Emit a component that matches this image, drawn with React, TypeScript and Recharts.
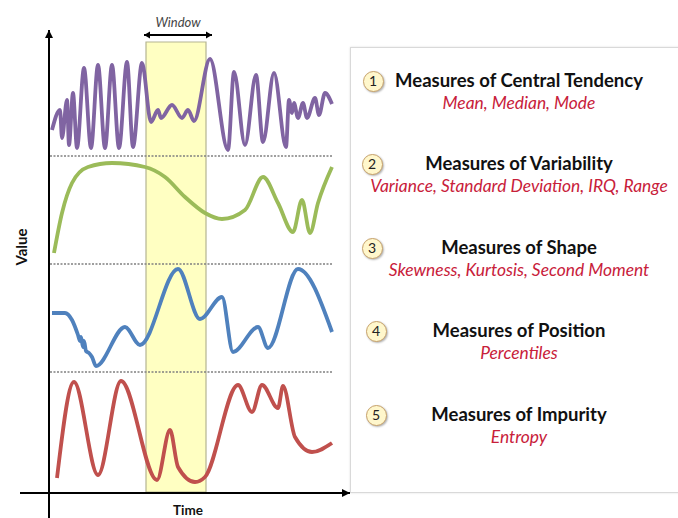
import React from 'react';
import { LineChart, Line, XAxis, YAxis, ReferenceLine, ReferenceArea } from 'recharts';

// time (x) and value (y) readings for each signal
const purpleTime = [4, 12, 14, 19, 21, 25, 29, 36, 43, 50, 57, 64, 71, 79, 85, 94, 103, 110, 113, 124, 134, 140, 146, 162, 180, 186, 197, 208, 215, 226, 238, 241, 244, 246, 250, 255, 259, 267, 271, 277, 284];
const purpleValue = [363, 383, 355, 393, 348, 400, 345, 425, 345, 428, 345, 428, 345, 431, 346, 430, 371, 383, 375, 388, 375, 383, 372, 434, 343, 421, 348, 418, 351, 420, 346, 393, 380, 390, 375, 390, 375, 395, 378, 400, 389];

const greenTime = [6, 14, 24, 40, 64, 97, 117, 137, 157, 174, 197, 215, 230, 245, 254, 262, 270, 284];
const greenValue = [240, 280, 310, 326, 330, 326, 316, 296, 280, 274, 283, 316, 290, 261, 293, 260, 290, 326];

const blueTime = [4, 17, 24, 30, 32, 33, 35, 36, 38, 41, 44, 48, 77, 92, 130, 152, 174, 185, 210, 220, 250, 284];
const blueValue = [180, 180, 173, 158, 152, 156, 146, 152, 142, 140, 136, 127, 166, 148, 224, 174, 196, 141, 166, 145, 224, 161];

const redTime = [9, 26, 50, 73, 109, 122, 130, 147, 157, 190, 204, 214, 230, 235, 247, 264, 284];
const redValue = [15, 111, 18, 112, 13, 63, 26, 11, 16, 108, 81, 108, 85, 107, 56, 41, 50];

const windowRange = [98, 158];
const separatorLevels = [337, 229, 121];

const measureTitles = [
  'Measures of Central Tendency',
  'Measures of Variability',
  'Measures of Shape',
  'Measures of Position',
  'Measures of Impurity',
];
const measureExamples = [
  'Mean, Median, Mode',
  'Variance, Standard Deviation, IRQ, Range',
  'Skewness, Kurtosis, Second Moment',
  'Percentiles',
  'Entropy',
];

const toPoints = (ts: number[], vs: number[]) => ts.map((t, i) => ({ t, v: vs[i] }));

const purpleData = toPoints(purpleTime, purpleValue);
const greenData = toPoints(greenTime, greenValue);
const blueData = toPoints(blueTime, blueValue);
const redData = toPoints(redTime, redValue);

const FONT = "Lato, 'Open Sans', sans-serif";

const head = (x: number, y: number, ang: number, L = 8, W = 4) => {
  const bx = x - L * Math.cos(ang);
  const by = y - L * Math.sin(ang);
  const px = -Math.sin(ang) * W;
  const py = Math.cos(ang) * W;
  return `${x},${y} ${bx + px},${by + py} ${bx - px},${by - py}`;
};

const ArrowLine = (props: any) => {
  const { x1, y1, x2, y2, both, text, sw = 2, L = 8, W = 4 } = props;
  const ang = Math.atan2(y2 - y1, x2 - x1);
  return (
    <g>
      <line x1={x1} y1={y1} x2={x2} y2={y2} stroke="#000" strokeWidth={sw} />
      <polygon points={head(x2, y2, ang, L, W)} fill="#000" />
      {both && <polygon points={head(x1, y1, ang + Math.PI, L, W)} fill="#000" />}
      {text && (
        <text
          x={(x1 + x2) / 2}
          y={y1 - 8}
          textAnchor="middle"
          fontFamily={FONT}
          fontStyle="italic"
          fontSize={13}
          fill="#444"
        >
          {text}
        </text>
      )}
    </g>
  );
};

const circleCx = [373, 372, 372, 376, 376];
const rowCy = [81, 164, 248, 331, 415];

export default function App() {
  return (
    <div style={{ position: 'absolute', left: 0, top: 0, width: 678, height: 518, background: '#fff', overflow: 'hidden' }}>
      <div
        style={{
          position: 'absolute',
          left: 350,
          top: 47,
          width: 340,
          height: 444,
          border: '1px solid #d9d9d9',
          boxShadow: '0 0 2px rgba(0,0,0,0.12)',
          background: '#fff',
        }}
      />
      <LineChart
        width={678}
        height={518}
        margin={{ top: 33, right: 330, bottom: 25, left: 48 }}
        style={{ position: 'absolute', left: 0, top: 0 }}
      >
        <XAxis type="number" dataKey="t" domain={[0, 300]} hide allowDataOverflow />
        <YAxis type="number" dataKey="v" domain={[0, 460]} hide allowDataOverflow />
        <ReferenceArea
          x1={windowRange[0]}
          x2={windowRange[1]}
          y1={1}
          y2={451}
          fill="#FFFFC2"
          fillOpacity={1}
          stroke="#B5B592"
          strokeWidth={1.2}
          ifOverflow="visible"
        />
        {separatorLevels.map((lv) => (
          <ReferenceLine
            key={lv}
            segment={[{ x: 2, y: lv }, { x: 285, y: lv }]}
            stroke="#808080"
            strokeWidth={1.5}
            strokeDasharray="2 1.5"
            ifOverflow="visible"
          />
        ))}
        <Line data={purpleData} dataKey="v" type="monotone" stroke="#8064A2" strokeWidth={3.8} dot={false} isAnimationActive={false} />
        <Line data={greenData} dataKey="v" type="monotone" stroke="#9BBB59" strokeWidth={3.8} dot={false} isAnimationActive={false} />
        <Line data={blueData} dataKey="v" type="monotone" stroke="#4F81BD" strokeWidth={3.8} dot={false} isAnimationActive={false} />
        <Line data={redData} dataKey="v" type="monotone" stroke="#C0504D" strokeWidth={3.8} dot={false} isAnimationActive={false} />
        <ReferenceLine
          segment={[{ x: -28, y: 0 }, { x: 302, y: 0 }]}
          ifOverflow="visible"
          shape={(p: any) => <ArrowLine {...p} />}
        />
        <ReferenceLine
          segment={[{ x: 1, y: -25 }, { x: 1, y: 463 }]}
          ifOverflow="visible"
          shape={(p: any) => <ArrowLine {...p} />}
        />
        <ReferenceLine
          segment={[{ x: 96, y: 458 }, { x: 164, y: 458 }]}
          ifOverflow="visible"
          shape={(p: any) => <ArrowLine {...p} both text="Window" sw={1.8} L={6} W={3.5} />}
        />
      </LineChart>
      <div
        style={{
          position: 'absolute',
          left: 21,
          top: 247,
          transform: 'translate(-50%, -50%) rotate(-90deg)',
          fontFamily: FONT,
          fontWeight: 700,
          fontSize: 15,
          color: '#111',
        }}
      >
        Value
      </div>
      <div
        style={{
          position: 'absolute',
          left: 188,
          top: 510,
          transform: 'translate(-50%, -50%)',
          fontFamily: FONT,
          fontWeight: 700,
          fontSize: 13.5,
          lineHeight: '13px',
          color: '#111',
        }}
      >
        Time
      </div>
      {measureTitles.map((title, i) => (
        <React.Fragment key={title}>
          <div
            style={{
              position: 'absolute',
              boxSizing: 'border-box',
              left: circleCx[i] - 10.5,
              top: rowCy[i] - 10.5,
              width: 21,
              height: 21,
              borderRadius: '50%',
              background: '#FFF7CC',
              border: '1.5px solid #C8A26A',
              boxShadow: '1px 1px 2px rgba(0,0,0,0.3)',
              fontFamily: FONT,
              fontSize: 14,
              lineHeight: '18px',
              textAlign: 'center',
              color: '#222',
            }}
          >
            {i + 1}
          </div>
          <div
            style={{
              position: 'absolute',
              left: 360,
              width: 318,
              top: rowCy[i] - 12,
              textAlign: 'center',
              fontFamily: FONT,
              fontWeight: 700,
              fontSize: 18.5,
              lineHeight: '22px',
              color: '#111',
            }}
          >
            {title}
          </div>
          <div
            style={{
              position: 'absolute',
              left: 360,
              width: 318,
              top: rowCy[i] + 12,
              textAlign: 'center',
              fontFamily: FONT,
              fontStyle: 'italic',
              fontSize: 17.4,
              lineHeight: '20px',
              color: '#C8203A',
            }}
          >
            {measureExamples[i]}
          </div>
        </React.Fragment>
      ))}
    </div>
  );
}
